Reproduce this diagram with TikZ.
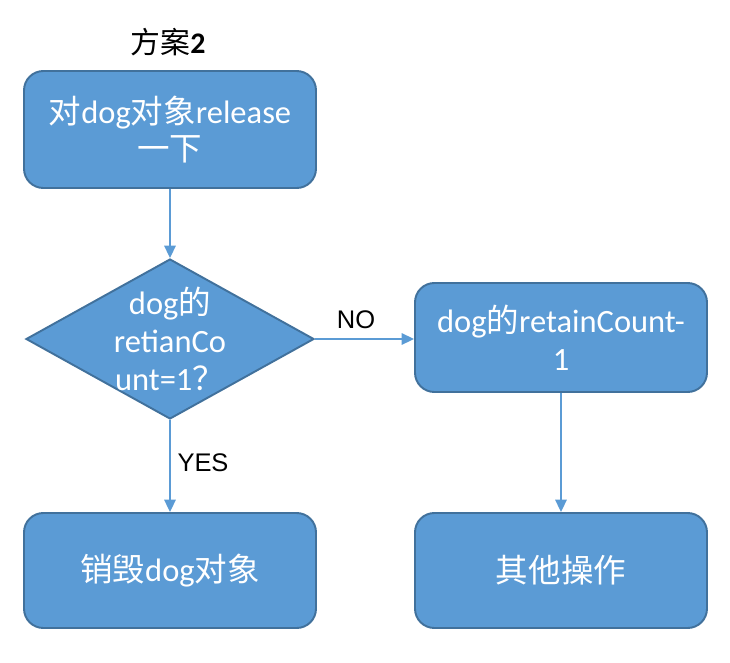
\documentclass[tikz,border=0pt]{standalone}
\usepackage{fontspec}
\setmainfont{Carlito}
\newfontfamily\cjk{Noto Sans CJK SC}
\newfontfamily\helv{Liberation Sans}
\usepackage{tikz}
\usetikzlibrary{arrows.meta, positioning, shapes.geometric}
\definecolor{boxblue}{HTML}{5B9BD5}
\definecolor{edgeblue}{HTML}{41719C}
\tikzset{
  stepbox/.style={draw=edgeblue, fill=boxblue, line width=1.1pt, rounded corners=11pt,
    minimum width=5.84cm, text=white, align=center, inner sep=0pt,
    font=\fontsize{18.5}{21.5}\selectfont},
  choice/.style={draw=edgeblue, fill=boxblue, line width=1.1pt, diamond, aspect=1.8,
    minimum width=5.76cm, minimum height=3.2cm, inner sep=0pt},
  boxtext/.style={text=white, align=center, inner sep=0pt,
    font=\fontsize{18.5}{21.5}\selectfont},
  flow/.style={draw=boxblue, line width=0.9pt, -{Triangle[length=7pt, width=6.5pt]}},
  tag/.style={font=\helv\fontsize{14.5}{17}\selectfont}
}
\begin{document}
\begin{tikzpicture}
    \useasboundingbox (0, 0) rectangle (14.6, -13.24);
    % title
    \node[font=\fontsize{17}{20}\selectfont] (title) at (3.36, -0.84) {{\cjk 方案}\textbf{2}};
    % boxes
    \node[stepbox, minimum height=2.34cm] (rel) at (3.4, -2.59) {{\cjk 对}dog{\cjk 对象}release\\{\cjk 一下}};
    \node[choice] (chk) at (3.4, -6.78) {};
    \node[boxtext] (chktext) at (chk) {dog{\cjk 的}\\retianCo\\unt=1{\cjk ？}};
    \node[stepbox, minimum height=2.18cm] (dec) at (11.22, -6.75) {dog{\cjk 的}retainCount-\\1};
    \node[stepbox, minimum height=2.3cm] (kill) at (3.4, -11.41) {{\cjk 销毁}dog{\cjk 对象}};
    \node[stepbox, minimum height=2.3cm] (other) at (11.22, -11.41) {{\cjk 其他操作}};
    % connectors
    \draw[flow] (rel) -- (chk);
    \draw[flow] (chk.east) -- (chk.east -| dec.west);
    \draw[flow] (chk) -- (kill);
    \draw[flow] (dec) -- (other);
    \node[tag] (no) at (7.12, -6.4) {NO};
    \node[tag] (yes) at (4.06, -9.26) {YES};
  \end{tikzpicture}
\end{document}
